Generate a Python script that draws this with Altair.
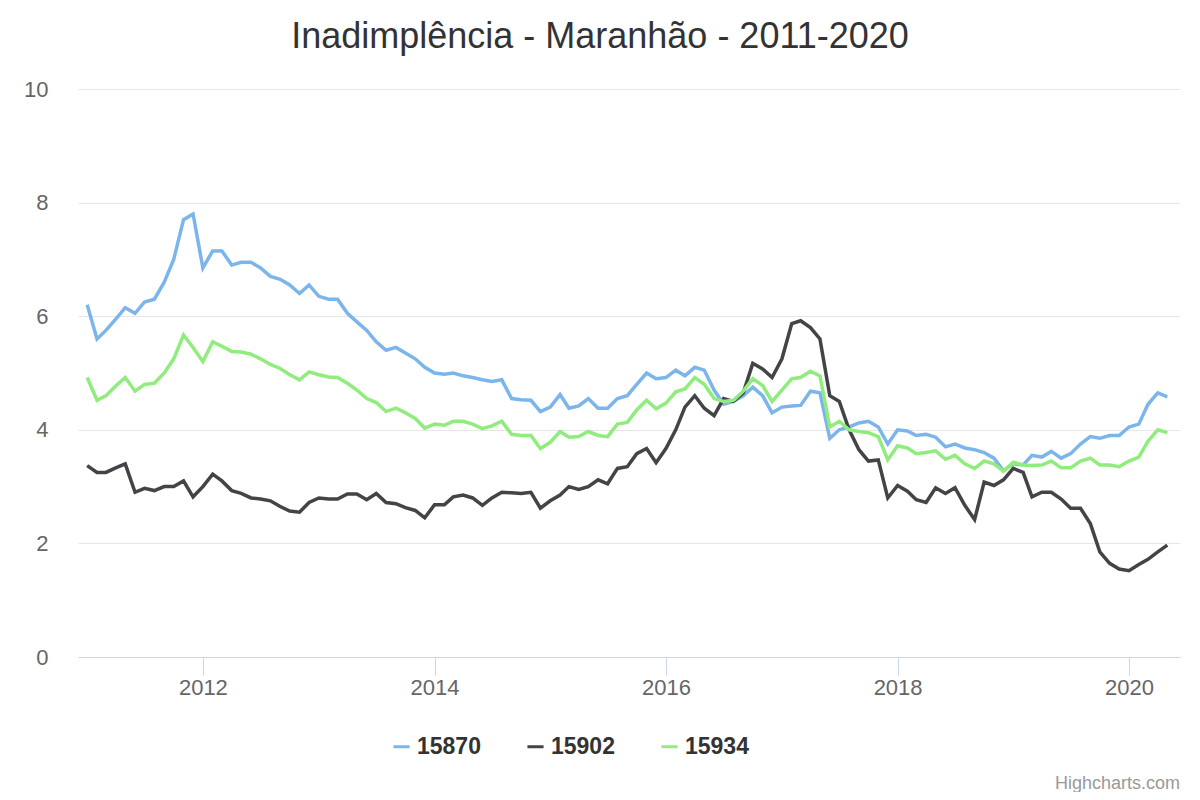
import altair as alt
import pandas as pd

months = pd.date_range("2011-01-01", "2020-05-01", freq="MS")

s15870 = [6.2, 5.6, 5.75, 5.95, 6.15, 6.05, 6.25, 6.3, 6.6, 7.0, 7.7, 7.8,
          6.85, 7.15, 7.15, 6.9, 6.95, 6.95, 6.85, 6.7, 6.65, 6.55, 6.4, 6.55,
          6.35, 6.3, 6.3, 6.05, 5.9, 5.75, 5.55, 5.4, 5.45, 5.35, 5.25, 5.1,
          5.0, 4.98, 5.0, 4.95, 4.92, 4.88, 4.85, 4.88, 4.55, 4.53, 4.52, 4.32,
          4.4, 4.62, 4.38, 4.42, 4.55, 4.38, 4.38, 4.55, 4.6, 4.8, 5.0, 4.9,
          4.92, 5.05, 4.95, 5.1, 5.05, 4.7, 4.45, 4.5, 4.6, 4.75, 4.6, 4.3,
          4.4, 4.42, 4.43, 4.68, 4.65, 3.85, 4.0, 4.05, 4.12, 4.15, 4.05, 3.75,
          4.0, 3.98, 3.9, 3.92, 3.87, 3.7, 3.75, 3.68, 3.65, 3.6, 3.5, 3.28,
          3.4, 3.38, 3.55, 3.52, 3.62, 3.5, 3.58, 3.75, 3.88, 3.85, 3.9, 3.9,
          4.05, 4.1, 4.45, 4.65, 4.58]

s15902 = [3.37, 3.25, 3.25, 3.33, 3.4, 2.9, 2.97, 2.93, 3.0, 3.0, 3.1, 2.82,
          3.0, 3.22, 3.1, 2.93, 2.88, 2.8, 2.78, 2.75, 2.65, 2.57, 2.55, 2.72,
          2.8, 2.78, 2.78, 2.87, 2.87, 2.77, 2.88, 2.72, 2.7, 2.63, 2.58, 2.45,
          2.68, 2.68, 2.82, 2.85, 2.8, 2.67, 2.8, 2.9, 2.89, 2.88, 2.9, 2.62,
          2.75, 2.85, 3.0, 2.95, 3.0, 3.12, 3.05, 3.32, 3.35, 3.58, 3.67, 3.42,
          3.67, 4.0, 4.4, 4.6, 4.38, 4.25, 4.55, 4.5, 4.65, 5.17, 5.07, 4.92,
          5.25, 5.87, 5.92, 5.8, 5.6, 4.6, 4.5, 4.0, 3.65, 3.45, 3.47, 2.8,
          3.02, 2.92, 2.77, 2.72, 2.98, 2.88, 2.98, 2.67, 2.42, 3.08, 3.02, 3.12,
          3.32, 3.25, 2.82, 2.9, 2.9, 2.78, 2.62, 2.62, 2.35, 1.85, 1.65, 1.55,
          1.52, 1.63, 1.72, 1.85, 1.97]

s15934 = [4.92, 4.52, 4.6, 4.77, 4.92, 4.68, 4.8, 4.82, 5.0, 5.25, 5.67, 5.45,
          5.2, 5.55, 5.47, 5.38, 5.37, 5.33, 5.25, 5.15, 5.08, 4.97, 4.88, 5.02,
          4.97, 4.93, 4.92, 4.82, 4.7, 4.55, 4.48, 4.32, 4.38, 4.3, 4.2, 4.03,
          4.1, 4.08, 4.15, 4.15, 4.1, 4.02, 4.07, 4.15, 3.92, 3.9, 3.9, 3.67,
          3.78, 3.97, 3.87, 3.88, 3.97, 3.9, 3.88, 4.1, 4.13, 4.35, 4.52, 4.37,
          4.47, 4.67, 4.72, 4.92, 4.8, 4.55, 4.5, 4.52, 4.68, 4.9, 4.78, 4.5,
          4.7, 4.9, 4.92, 5.03, 4.95, 4.05, 4.15, 4.0, 3.97, 3.95, 3.88, 3.47,
          3.72, 3.68, 3.58, 3.6, 3.63, 3.48, 3.55, 3.4, 3.32, 3.45, 3.4, 3.27,
          3.43, 3.38, 3.37, 3.38, 3.45, 3.33, 3.33, 3.45, 3.5, 3.38, 3.38, 3.35,
          3.45, 3.52, 3.8, 4.0, 3.95]

series_names = ["15870", "15902", "15934"]
series_colors = ["#7cb5ec", "#434348", "#90ed7d"]

rows = []
for name, vals in zip(series_names, [s15870, s15902, s15934]):
    for d, v in zip(months, vals):
        rows.append({"date": d, "serie": name, "valor": v})
df = pd.DataFrame(rows)

year_ticks = [alt.DateTime(year=y, month=1, date=1) for y in [2012, 2014, 2016, 2018, 2020]]

lines = alt.Chart(df).mark_line(strokeWidth=3.5).encode(
    x=alt.X("date:T", title=None,
            scale=alt.Scale(domain=[alt.DateTime(year=2010, month=12, date=3),
                                    alt.DateTime(year=2020, month=6, date=10)]),
            axis=alt.Axis(values=year_ticks, format="%Y", grid=False, domainColor="#ccd6eb",
                          tickColor="#ccd6eb", tickSize=18, labelFontSize=22, labelColor="#666666",
                          labelPadding=2, labelFont="Liberation Sans")),
    y=alt.Y("valor:Q", title=None, scale=alt.Scale(domain=[0, 10]),
            axis=alt.Axis(values=[0, 2, 4, 6, 8, 10], domain=False, ticks=False, gridColor="#e6e6e6",
                          labelFontSize=22, labelColor="#666666", labelPadding=30,
                          labelFont="Liberation Sans")),
    color=alt.Color("serie:N", scale=alt.Scale(domain=series_names, range=series_colors),
                    legend=alt.Legend(title=None, orient="none", direction="horizontal",
                                      legendX=312, legendY=646, symbolSize=260,
                                      symbolStrokeWidth=3, labelFontSize=23, labelFontWeight="bold",
                                      labelColor="#333333", labelFont="Liberation Sans",
                                      columnPadding=40, symbolType="stroke")),
)

credit = alt.Chart(pd.DataFrame({"t": ["Highcharts.com"]})).mark_text(
    align="right", fontSize=18, color="#999999", font="Liberation Sans"
).encode(x=alt.value(1102), y=alt.value(695), text="t:N")

chart = (lines + credit).properties(
    width=1102, height=568,
    autosize=alt.AutoSizeParams(type="none"),
    padding={"left": 70, "top": 81, "right": 12, "bottom": 135},
    title=alt.TitleParams("Inadimplência - Maranhão - 2011-2020", fontSize=36, fontWeight="normal",
                          color="#333333", font="Liberation Sans", offset=22, anchor="middle", dx=-29),
).configure_view(stroke=None)

chart.save("out.html", embed_options={"renderer": "svg", "actions": False})
